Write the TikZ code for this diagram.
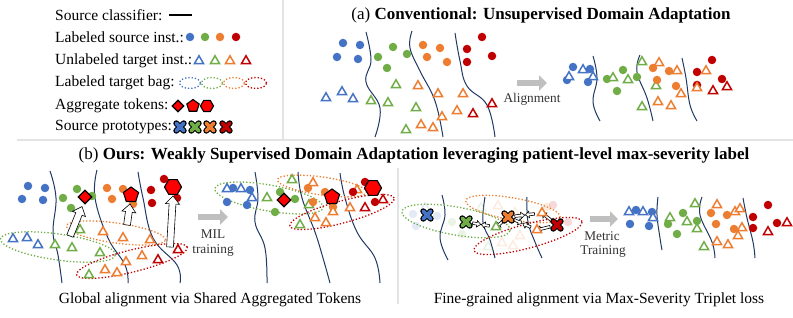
\documentclass[tikz,border=0pt]{standalone}
\usepackage{fontspec}
\setmainfont{Liberation Serif}
\usetikzlibrary{arrows.meta,calc,shapes.geometric}

\definecolor{cb}{HTML}{4472C4}
\definecolor{cg}{HTML}{70AD47}
\definecolor{co}{HTML}{ED7D31}
\definecolor{cr}{HTML}{C00000}
\definecolor{clf}{HTML}{203864}
\definecolor{tokred}{HTML}{FF0000}

% point clouds, bags and boundaries
\newcommand{\srcset}[4][]{\foreach \px/\py [count=\i] in {#4} \node[srcpt=#3,#1] (#2\i) at (\px,\py) {};}
\newcommand{\tgtset}[4][]{\foreach \px/\py [count=\i] in {#4} \node[tgtpt=#3,#1] (#2\i) at (\px,\py) {};}
\newcommand{\clfcurve}[1]{\draw[clfline] plot[smooth, tension=0.7] coordinates {#1};}
\newcommand{\bag}[5]{\draw[bagline=#1, rotate around={#5:(#2)}] (#2) ellipse [x radius=#3pt, y radius=#4pt];}
\newcommand{\proto}[3]{%
  \coordinate (#1) at (#2);
  \draw[protoline=black, line width=6pt] ($(#1)+(-3.7,-3.7)$) -- ($(#1)+(3.7,3.7)$) ($(#1)+(-3.7,3.7)$) -- ($(#1)+(3.7,-3.7)$);
  \draw[protoline=#3, line width=3.7pt] ($(#1)+(-3.7,-3.7)$) -- ($(#1)+(3.7,3.7)$) ($(#1)+(-3.7,3.7)$) -- ($(#1)+(3.7,-3.7)$);}

% hollow block arrow from #1 to #2
\def\arw{3.4pt}\def\arh{7pt}\def\arl{8pt}
\newcommand{\hollowarrow}[2]{%
  \path (#1) coordinate (arA) (#2) coordinate (arB);
  \pgfpointdiff{\pgfpointanchor{arA}{center}}{\pgfpointanchor{arB}{center}}%
  \pgfgetlastxy{\arx}{\ary}%
  \pgfmathsetmacro{\arlen}{veclen(\arx,\ary)}%
  \pgfmathsetmacro{\arang}{atan2(\ary,\arx)}%
  \draw[harrow, shift={(arA)}, rotate=\arang]
    (0pt,-\arw) -- ({\arlen pt-\arl},-\arw) -- ({\arlen pt-\arl},-\arh)
    -- (\arlen pt,0pt) -- ({\arlen pt-\arl},\arh) -- ({\arlen pt-\arl},\arw)
    -- (0pt,\arw) -- cycle;}

\begin{document}
\begin{tikzpicture}[x=1pt, y=-1pt,
    srcpt/.style={circle, fill=#1, inner sep=0pt, minimum size=8.5pt},
    tgtpt/.style={regular polygon, regular polygon sides=3, draw=#1, fill=white, line width=1.5pt, inner sep=0pt, minimum size=10.5pt},
    bagline/.style={draw=#1, dotted, line width=1.3pt},
    clfline/.style={draw=clf, line width=1pt},
    tokdia/.style={diamond, draw=black, fill=tokred, line width=1.1pt, inner sep=0pt, minimum size=14pt},
    tokpen/.style={regular polygon, regular polygon sides=5, draw=black, fill=tokred, line width=1.1pt, inner sep=0pt, minimum size=16pt},
    tokhex/.style={regular polygon, regular polygon sides=6, draw=black, fill=tokred, line width=1.1pt, inner sep=0pt, minimum size=17pt},
    protoline/.style={draw=#1, line cap=round},
    harrow/.style={draw=black, fill=white, line width=0.6pt},
    alignarrow/.style={draw=gray!50, line width=5.5pt, -{Triangle[length=8pt, width=15pt]}},
    divider/.style={draw=gray!22, line width=1.5pt},
    legendtext/.style={anchor=west, inner sep=0pt, font=\fontsize{15.5}{18}\selectfont},
    titletext/.style={inner sep=0pt, font=\fontsize{17}{20}\selectfont},
    captext/.style={inner sep=0pt, font=\fontsize{15.5}{18}\selectfont},
    steptext/.style={inner sep=0pt, text=black!80, font=\fontsize{13.3}{15}\selectfont}
  ]
  \useasboundingbox (0,0) rectangle (793,318);

  % frame lines
  \draw[divider] (283,0) -- (283,140);
  \draw[divider] (17,140) -- (793,140);
  \draw[divider] (398,168) -- (398,304);

  % legend
  \node[legendtext] (lgclf) at (55,15) {Source classifier:};
  \node[legendtext] (lgsrc) at (55,37) {Labeled source inst.:};
  \node[legendtext] (lgtgt) at (55,61) {Unlabeled target inst.:};
  \node[legendtext] (lgbag) at (55,83) {Labeled target bag:};
  \node[legendtext] (lgtok) at (55,106) {Aggregate tokens:};
  \node[legendtext] (lgpro) at (55,127) {Source prototypes:};
  \draw[black, line width=2pt] (169,15) -- (192,15);
  \node[srcpt=cb] (lgs1) at (190,37) {};
  \node[srcpt=cg] (lgs2) at (205,37) {};
  \node[srcpt=co] (lgs3) at (220,37) {};
  \node[srcpt=cr] (lgs4) at (236,37) {};
  \node[tgtpt=cb] (lgt1) at (199,61) {};
  \node[tgtpt=cg] (lgt2) at (215,61) {};
  \node[tgtpt=co] (lgt3) at (230,61) {};
  \node[tgtpt=cr] (lgt4) at (246,61) {};
  \bag{cb}{190,83}{10.5}{5.5}{0}
  \bag{cg}{212,83}{10.5}{5.5}{0}
  \bag{co}{234,83}{10.5}{5.5}{0}
  \bag{cr}{256,83}{10.5}{5.5}{0}
  \node[tokdia, minimum size=12pt] (lgk1) at (178,106) {};
  \node[tokpen, minimum size=13pt] (lgk2) at (193,106) {};
  \node[tokhex, minimum size=13pt] (lgk3) at (207,106) {};
  \proto{lgp1}{180,127}{cb}
  \proto{lgp2}{195,127}{cg}
  \proto{lgp3}{210,127}{co}
  \proto{lgp4}{226,127}{cr}

  % (a) conventional UDA
  \node[titletext] (titleA) at (541,15) {(a) \textbf{Conventional: Unsupervised Domain Adaptation}};
  \clfcurve{(366,32) (371,60) (366,82) (380,108) (375,137)}
  \clfcurve{(412,31) (410,48) (420,71) (435,101) (443,137)}
  \clfcurve{(455,33) (460,61) (467,86) (487,105) (495,137)}
  \srcset{asb}{cb}{343/43, 360/45, 337/57, 358/59}
  \srcset{asg}{cg}{378/57, 393/47, 407/54, 387/68}
  \srcset{aso}{co}{423/45, 440/48, 427/57, 447/62}
  \srcset{asr}{cr}{482/37, 467/49, 492/56, 467/62}
  \tgtset{atb}{cb}{326/98, 342/92, 353/99}
  \tgtset{atg}{cg}{396/85, 371/101, 388/103, 416/108, 406/130}
  \tgtset{ato}{co}{418/86, 438/94, 463/94, 442/117, 421/125, 433/128, 457/111}
  \tgtset{atr}{cr}{492/104, 473/114}

  \coordinate (alA) at (517,83);
  \coordinate (alB) at (547,83);
  \draw[alignarrow] (alA) -- (alB);
  \node[steptext] (alLabel) at (532,99) {Alignment};

  \clfcurve{(593,56) (597,78) (593,102) (600,121)}
  \clfcurve{(640,55) (637,72) (647,98) (653,121)}
  \clfcurve{(682,58) (686,78) (690,105) (697,121)}
  \srcset{bsb}{cb}{573/67, 590/69, 567/80, 588/82}
  \tgtset{btb}{cb}{583/70, 569/77, 593/77}
  \srcset{bsg}{cg}{607/79, 623/70, 637/77, 617/91}
  \tgtset{btg}{cg}{613/78, 628/80, 642/62, 656/86, 642/107}
  \srcset{bso}{co}{653/68, 669/71, 657/80, 676/86}
  \srcset{bsr}{cr}{712/60, 697/72, 722/79, 697/85}
  \tgtset{bto}{co}{659/63, 677/71, 681/94, 658/102, 671/106, 697/88, 706/71}
  \tgtset{btr}{cr}{713/91, 727/87}

  % (b) weakly supervised DA
  \node[titletext] (titleB) at (414,155) {(b) \textbf{Ours: Weakly Supervised Domain Adaptation leveraging patient-level max-severity label}};

  % before MIL training
  \clfcurve{(50,171) (56,198) (53,232) (58,255) (62,283)}
  \clfcurve{(97,170) (95,198) (108,238) (125,265) (128,283)}
  \clfcurve{(138,172) (143,198) (153,238) (177,265) (180,283)}
  \bag{cg}{58,247}{58}{13}{-8}
  \bag{co}{116,233}{50}{10}{-8}
  \bag{cr}{132,261}{57}{11}{14}
  \srcset{csb}{cb}{28/186, 45/188, 22/199, 43/200}
  \srcset{csg}{cg}{63/198, 77/189, 92/196, 71/208}
  \srcset{cso}{co}{107/188, 123/189, 112/199, 133/204}
  \srcset{csr}{cr}{164/179, 151/190, 177/198, 152/203}
  \tgtset{ctb}{cb}{13/239, 27/238, 38/245}
  \tgtset{ctg}{cg}{55/245, 72/248, 80/230, 100/253, 89/275}
  \tgtset{cto}{co}{103/232, 123/238, 150/240, 142/256, 126/262, 105/270, 117/273}
  \tgtset{ctr}{cr}{158/260, 178/250}
  \node[tokdia] (ctokd) at (85,197) {};
  \node[tokpen] (ctokp) at (131,195) {};
  \node[tokhex] (ctokh) at (173,187) {};
  \hollowarrow{70,236}{$(ctokd.south)+(-3,2)$}
  \hollowarrow{127,225}{$(ctokp.south)+(-1,2)$}
  \hollowarrow{170,247}{$(ctokh.south)+(0,1)$}

  \coordinate (milA) at (198,217);
  \coordinate (milB) at (228,217);
  \draw[alignarrow] (milA) -- (milB);
  \node[steptext] (milLabel) at (213,234) {MIL};
  \node[steptext] (milLabel2) at (213,251) {training};

  % after MIL training
  \clfcurve{(255,172) (258,198) (255,222) (265,248) (267,283)}
  \clfcurve{(298,172) (302,198) (315,232) (323,258) (330,283)}
  \clfcurve{(340,173) (345,198) (357,232) (375,258) (380,283)}
  \bag{cg}{269,198}{55}{13}{-10}
  \bag{co}{322,186}{45}{9}{-8}
  \bag{cr}{342,212}{54}{11}{15}
  \srcset{dsb}{cb}{233/188, 250/190, 227/202, 247/205}
  \tgtset{dtb}{cb}{227/189, 241/189, 252/198}
  \srcset{dsg}{cg}{280/192, 295/199, 275/212}
  \tgtset{dtg}{cg}{267/198, 292/180, 309/205, 300/225}
  \srcset{dso}{co}{308/188, 325/192, 313/202, 333/207}
  \tgtset{dto}{co}{313/183, 333/212, 315/218, 326/223, 350/208, 357/190}
  \srcset{dsr}{cr}{365/182, 353/192, 375/202}
  \tgtset{dtr}{cr}{365/208, 383/200}
  \node[tokdia] (dtokd) at (284,200) {};
  \node[tokpen] (dtokp) at (332,197) {};
  \node[tokhex] (dtokh) at (373,188) {};

  \node[captext] (capL) at (210,300) {Global alignment via Shared Aggregated Tokens};

  % before metric training
  \clfcurve{(442,195) (445,215) (440,238) (448,260)}
  \clfcurve{(485,197) (483,222) (490,240) (495,258)}
  \clfcurve{(527,197) (528,222) (535,242) (542,258)}
  \bag{cg}{456,221}{55}{14}{-10}
  \bag{co}{513,209}{48}{11}{-10}
  \bag{cr}{528,236}{56}{12}{15}
  \srcset[opacity=0.15]{esb}{cb}{413/214, 416/226, 437/216}
  \tgtset[opacity=0.15]{etb}{cb}{425/208}
  \srcset[opacity=0.15]{esg}{cg}{452/222, 462/234}
  \tgtset[opacity=0.15]{etg}{cg}{481/208, 488/247}
  \srcset[opacity=0.15]{eso}{co}{547/207}
  \tgtset[opacity=0.15]{eto}{co}{498/206, 515/213, 520/236, 502/243, 513/246}
  \srcset[opacity=0.15]{esr}{cr}{553/205, 568/222}
  \coordinate (gx) at (466,222);
  \coordinate (gt) at (496,227);
  \coordinate (ox) at (508,217);
  \coordinate (ot1) at (542,213);
  \coordinate (ot2) at (537,230);
  \coordinate (rx) at (557,225);
  \def\arw{1.3pt}\def\arh{3.2pt}\def\arl{3.8pt}
  \hollowarrow{$(gx)!0.22!(gt)$}{$(gx)!0.49!(gt)$}
  \hollowarrow{$(gt)!0.22!(gx)$}{$(gt)!0.49!(gx)$}
  \hollowarrow{$(ox)!0.35!(gt)$}{$(ox)!1.0!(gt)$}
  \hollowarrow{$(ox)!0.2!(ot1)$}{$(ox)!0.49!(ot1)$}
  \hollowarrow{$(ot1)!0.22!(ox)$}{$(ot1)!0.49!(ox)$}
  \hollowarrow{$(ox)!0.2!(ot2)$}{$(ox)!0.49!(ot2)$}
  \hollowarrow{$(ot2)!0.22!(ox)$}{$(ot2)!0.49!(ox)$}
  \hollowarrow{$(rx)!0.35!(ot1)$}{$(rx)!1.0!(ot1)$}
  \hollowarrow{$(rx)!0.35!(ot2)$}{$(rx)!1.0!(ot2)$}
  \node[tgtpt=cg] (ftg) at (gt) {};
  \node[tgtpt=co] (fto1) at (ot1) {};
  \node[tgtpt=co] (fto2) at (ot2) {};
  \proto{fpb}{427,215}{cb}
  \proto{fpg}{466,222}{cg}
  \proto{fpo}{508,217}{co}
  \proto{fpr}{557,225}{cr}

  \coordinate (mtA) at (590,219);
  \coordinate (mtB) at (618,219);
  \draw[alignarrow] (mtA) -- (mtB);
  \node[steptext] (mtLabel) at (602,236) {Metric};
  \node[steptext] (mtLabel2) at (603,252) {Training};

  % after metric training
  \clfcurve{(658,197) (657,215) (660,238) (662,250)}
  \clfcurve{(702,197) (700,215) (712,242) (715,258)}
  \clfcurve{(743,198) (747,218) (753,242) (755,258)}
  \srcset{gsb}{cb}{636/210, 652/212, 630/224, 649/226}
  \tgtset{gtb}{cb}{629/212, 643/212, 653/218}
  \srcset{gsg}{cg}{668/224, 683/213, 697/221, 677/234}
  \tgtset{gtg}{cg}{670/218, 687/222, 695/204, 697/229, 704/247}
  \srcset{gso}{co}{711/213, 727/215, 716/224, 734/229}
  \tgtset{gto}{co}{717/205, 735/212, 740/209, 742/228, 738/236, 717/242, 728/245}
  \srcset{gsr}{cr}{768/205, 753/217, 753/228, 777/223}
  \tgtset{gtr}{cr}{768/232, 787/223}

  \node[captext] (capR) at (599,300) {Fine-grained alignment via Max-Severity Triplet loss};
\end{tikzpicture}
\end{document}
